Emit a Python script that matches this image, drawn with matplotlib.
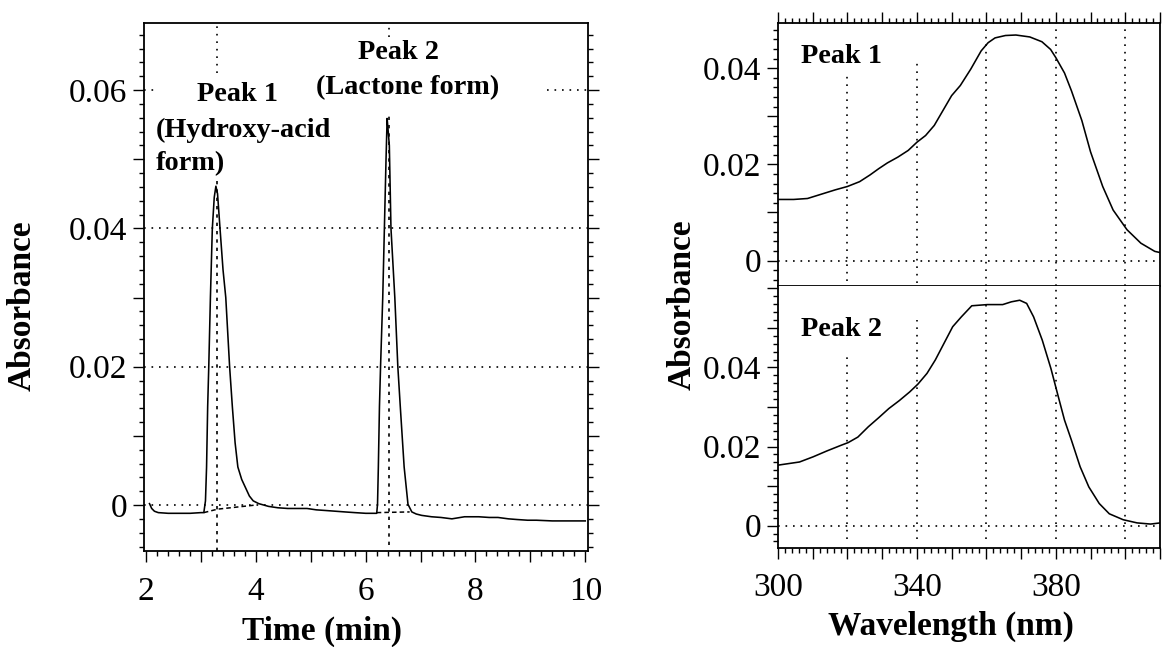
import matplotlib
matplotlib.use('Agg')
import matplotlib.pyplot as plt
from matplotlib.ticker import MultipleLocator, FuncFormatter

plt.rcParams['font.family'] = ['Liberation Serif', 'DejaVu Serif']

# ---------------- data ----------------
# Chromatogram (left)
time_min = [2.06, 2.10, 2.15, 2.22, 2.40, 2.60, 2.80, 3.00, 3.05, 3.08, 3.10, 3.12,
            3.14, 3.17, 3.205, 3.24, 3.27, 3.30, 3.345, 3.40, 3.45, 3.52, 3.57, 3.62,
            3.67, 3.74, 3.81, 3.88, 3.95, 4.05, 4.23, 4.40, 4.58, 4.75, 4.93, 5.10,
            5.28, 5.45, 5.62, 5.80, 6.00, 6.15, 6.20, 6.215, 6.23, 6.25, 6.27, 6.31,
            6.34, 6.37, 6.39, 6.41, 6.43, 6.46, 6.53, 6.585, 6.63, 6.70, 6.77, 6.84,
            6.92, 7.02, 7.20, 7.37, 7.57, 7.80, 8.06, 8.25, 8.41, 8.60, 8.76, 8.95,
            9.11, 9.40, 9.70, 10.0]
absorbance_chrom = [0.0002, -0.0005, -0.0009, -0.0011, -0.0012, -0.0012, -0.0012, -0.0011,
                    -0.0011, 0.0006, 0.0055, 0.0142, 0.020, 0.030, 0.040, 0.0445, 0.0461,
                    0.0450, 0.040, 0.034, 0.030, 0.020, 0.0142, 0.0090, 0.0055, 0.0037,
                    0.0025, 0.0013, 0.0006, 0.0002, -0.0002, -0.0004, -0.0005, -0.0005,
                    -0.0005, -0.0007, -0.0008, -0.0009, -0.0010, -0.0011, -0.0012, -0.0012,
                    -0.0012, 0.0001, 0.0055, 0.0142, 0.020, 0.030, 0.040, 0.050, 0.0559,
                    0.054, 0.052, 0.040, 0.030, 0.020, 0.0142, 0.0055, 0.0001, -0.0010,
                    -0.0013, -0.0015, -0.0017, -0.0018, -0.0020, -0.0017, -0.0017, -0.0018,
                    -0.0018, -0.0020, -0.0021, -0.0022, -0.0022, -0.0023, -0.0023, -0.0023]

peak_times = [3.29, 6.42]
baseline1_t = [3.05, 3.30, 4.00]
baseline1_a = [-0.0011, -0.0006, 0.0000]
baseline2_t = [6.20, 6.80]
baseline2_a = [-0.0011, -0.0010]

# UV spectra (right)
wavelength_1 = [300, 304.5, 308.5, 312.5, 316.5, 320, 323.5, 326.5, 329, 331.5, 334.5,
                337.5, 340, 342.5, 345, 347.5, 350, 352.5, 355.5, 358.5, 360.5, 362.5,
                365.5, 368.5, 372.5, 376, 378.5, 380, 382.5, 384.5, 387.5, 390, 393.5,
                396.5, 400.5, 404.5, 408.5, 411]
absorbance_peak1 = [0.0127, 0.0127, 0.0129, 0.0138, 0.0147, 0.0154, 0.0164, 0.0178,
                    0.0191, 0.0203, 0.0215, 0.0229, 0.0246, 0.0260, 0.0281, 0.0312,
                    0.0343, 0.0364, 0.0398, 0.0436, 0.0453, 0.0463, 0.0468, 0.0469,
                    0.0465, 0.0455, 0.0439, 0.0422, 0.0390, 0.0353, 0.0291, 0.0226,
                    0.0154, 0.0105, 0.0064, 0.0036, 0.0019, 0.0015]

wavelength_2 = [300, 306.2, 310.1, 314.1, 318.1, 320.2, 323, 326, 329, 331.9, 334.9,
                337.9, 340.3, 342.9, 345.3, 347.8, 350.3, 352.8, 355.8, 360.3, 364.7,
                367.2, 369.6, 371.6, 373.6, 376.1, 378.6, 380.6, 382.5, 384.5, 387,
                389.5, 392.5, 395.4, 399.4, 403.4, 407.3, 410.1]
absorbance_peak2 = [0.0153, 0.0161, 0.0174, 0.0189, 0.0203, 0.0210, 0.0224, 0.0250,
                    0.0273, 0.0296, 0.0316, 0.0338, 0.0358, 0.0385, 0.0419, 0.0461,
                    0.0503, 0.0528, 0.0556, 0.0559, 0.0559, 0.0566, 0.0570, 0.0562,
                    0.0528, 0.0469, 0.0397, 0.0330, 0.0267, 0.0216, 0.0149, 0.0098,
                    0.0056, 0.0030, 0.0015, 0.0007, 0.0004, 0.0007]

x_ticks_time = [2, 4, 6, 8, 10]
x_ticks_wl = [300, 340, 380]

# ---------------- style ----------------
LW = 1.15
DOT = (0, (1, 3.5))
TICK_FS = 24
LABEL_FS = 24
ANN_FS = 20.3


def yfmt(labels):
    def f(v, pos):
        for L in labels:
            if abs(v - L) < 1e-6:
                return '0' if abs(L) < 1e-9 else f'{L:.2f}'
        return ''
    return FuncFormatter(f)


def xfmt(labels):
    def f(v, pos):
        for L in labels:
            if abs(v - L) < 1e-6:
                return f'{L:g}'
        return ''
    return FuncFormatter(f)


fig = plt.figure(figsize=(11.62, 6.47), dpi=100)

# ---------------- left: chromatogram ----------------
axL = fig.add_axes([144 / 1162, 1 - 551 / 647, 444 / 1162, 528 / 647])
axL.set_xlim(1.96, 10.05)
axL.set_ylim(-0.00665, 0.0697)

# grid
for yv in [0.0, 0.02, 0.04]:
    axL.axhline(yv, color='black', lw=1.2, ls=DOT, zorder=1)
axL.hlines(0.06, 1.96, 2.15, color='black', lw=1.2, ls=DOT)
axL.hlines(0.06, 9.3, 10.05, color='black', lw=1.2, ls=DOT)
axL.vlines(peak_times[0], -0.0067, 0.047, color='black', lw=1.2, ls=(0, (2, 3)))
axL.vlines(peak_times[0], 0.0625, 0.0697, color='black', lw=1.2, ls=DOT)
axL.vlines(peak_times[1], -0.0058, 0.0562, color='black', lw=1.2, ls=(0, (2, 3)))
axL.vlines(peak_times[1], 0.0677, 0.0697, color='black', lw=1.2, ls=DOT)

axL.plot(baseline1_t, baseline1_a, color='black', lw=1.1, ls=(0, (3, 2)))
axL.plot(baseline2_t, baseline2_a, color='black', lw=1.1, ls=(0, (3, 2)))
axL.plot(time_min, absorbance_chrom, color='black', lw=LW)

axL.xaxis.set_major_locator(MultipleLocator(1))
axL.xaxis.set_minor_locator(MultipleLocator(0.2))
axL.xaxis.set_major_formatter(xfmt(x_ticks_time))
axL.yaxis.set_major_locator(MultipleLocator(0.01))
axL.yaxis.set_minor_locator(MultipleLocator(0.002))
axL.yaxis.set_major_formatter(yfmt([0, 0.02, 0.04, 0.06]))
axL.tick_params(which='both', direction='out', top=False, right=True, width=1)
axL.tick_params(which='major', length=8, labelsize=TICK_FS)
axL.tick_params(which='minor', length=3.5)
axL.tick_params(axis='x', which='major', pad=10)
axL.tick_params(axis='y', which='major', pad=4)

axL.set_xlabel('Time (min)', fontsize=LABEL_FS, fontweight='bold')
axL.xaxis.set_label_coords(0.40, -0.123)
axL.set_ylabel('Absorbance', fontsize=LABEL_FS, fontweight='bold')
axL.yaxis.set_label_coords(-0.24, 0.465)

axL.text(3.67, 0.0594, 'Peak 1', fontsize=ANN_FS, fontweight='bold', ha='center', va='center')
axL.text(2.17, 0.0542, '(Hydroxy-acid', fontsize=ANN_FS, fontweight='bold', ha='left', va='center')
axL.text(2.17, 0.0493, 'form)', fontsize=ANN_FS, fontweight='bold', ha='left', va='center')
axL.text(6.60, 0.0655, 'Peak 2', fontsize=ANN_FS, fontweight='bold', ha='center', va='center')
axL.text(6.77, 0.0603, '(Lactone form)', fontsize=ANN_FS, fontweight='bold', ha='center', va='center')

for sp in axL.spines.values():
    sp.set_linewidth(1.3)

# ---------------- right: spectra ----------------
x0 = 778 / 1162
w = (1160 - 778) / 1162
axT = fig.add_axes([x0, 1 - 286 / 647, w, 263 / 647])
axB = fig.add_axes([x0, 1 - 548 / 647, w, 262 / 647], sharex=axT)
axT.set_xlim(300, 410)
axT.set_ylim(-0.0053, 0.0494)
axB.set_ylim(-0.00565, 0.0606)

grid_wl = [320, 340, 360, 380, 400]
top_grid_tops = [0.0388, 0.0419, 0.0494, 0.0494, 0.0494]
top_grid_bots = [-0.0043, -0.0046, -0.0053, -0.0053, -0.0053]
bot_grid_tops = [0.0431, 0.052, 0.0606, 0.0606, 0.0606]
for g, t, b in zip(grid_wl, top_grid_tops, top_grid_bots):
    axT.vlines(g, b, t, color='black', lw=1.2, ls=DOT)
for g, t in zip(grid_wl, bot_grid_tops):
    axB.vlines(g, -0.0035, t, color='black', lw=1.2, ls=DOT)
axT.axhline(0, color='black', lw=1.2, ls=DOT)
axB.axhline(0, color='black', lw=1.2, ls=DOT)

axT.plot(wavelength_1, absorbance_peak1, color='black', lw=LW)
axB.plot(wavelength_2, absorbance_peak2, color='black', lw=LW)

axT.text(306.5, 0.0425, 'Peak 1', fontsize=ANN_FS, fontweight='bold', ha='left', va='center')
axB.text(306.6, 0.0495, 'Peak 2', fontsize=ANN_FS, fontweight='bold', ha='left', va='center')

for ax in (axT, axB):
    ax.xaxis.set_major_locator(MultipleLocator(10))
    ax.xaxis.set_minor_locator(MultipleLocator(2))
    ax.xaxis.set_major_formatter(xfmt(x_ticks_wl))
    ax.yaxis.set_major_locator(MultipleLocator(0.01))
    ax.yaxis.set_minor_locator(MultipleLocator(0.002))
    ax.yaxis.set_major_formatter(yfmt([0, 0.02, 0.04]))
    ax.tick_params(which='both', direction='out', width=1, right=False)
    ax.tick_params(which='major', length=8, labelsize=TICK_FS)
    ax.tick_params(which='minor', length=3.5)
    ax.tick_params(axis='y', which='major', pad=4)
    for sp in ax.spines.values():
        sp.set_linewidth(1.3)

axT.tick_params(axis='x', which='both', top=True, bottom=False, labelbottom=False, labeltop=False)
axB.tick_params(axis='x', which='both', top=False, bottom=True, labelbottom=True)
axB.tick_params(axis='x', which='major', pad=10)
axB.spines['top'].set_visible(False)

axB.set_xlabel('Wavelength (nm)', fontsize=LABEL_FS, fontweight='bold')
axB.xaxis.set_label_coords(0.453, -0.24)
fig.text(682 / 1162, 1 - 305 / 647, 'Absorbance', fontsize=LABEL_FS, fontweight='bold',
         rotation=90, ha='center', va='center')

fig.savefig('out.png', dpi=100)
